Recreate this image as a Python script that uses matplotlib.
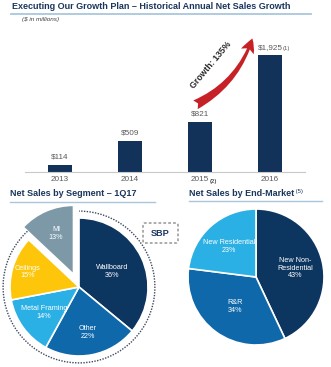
import numpy as np
import matplotlib.pyplot as plt
from matplotlib.lines import Line2D
from matplotlib.patches import Arc, FancyBboxPatch

plt.rcParams['font.family'] = ['Liberation Sans', 'DejaVu Sans']

# data
years = ['2013', '2014', '2015', '2016']
sales = [114, 509, 821, 1925]
year_notes = ['', '', '(2)', '']
sales_notes = ['', '', '', '(1)']

seg_labels = ['Wallboard', 'Other', 'Metal Framing', 'Ceilings', 'MI']
seg_share = [36, 22, 14, 15, 13]
market_labels = ['New Non-\nResidential', 'R&R', 'New Residential']
market_share = [43, 34, 23]

navy = '#12325a'
title_col = '#1b365d'
gray = '#595959'
line_col = '#a9c6dd'

W, H = 331, 367
fig = plt.figure(figsize=(W / 100, H / 100), dpi=100)


def fx(px):
    return px / W


def fy(py):
    return 1 - py / H


def px_axes(cx, cy, half):
    return fig.add_axes([fx(cx - half), fy(cy + half), 2 * half / W, 2 * half / H])


# titles and rules
fig.text(fx(12), fy(6.5), 'Executing Our Growth Plan \u2013 Historical Annual Net Sales Growth',
         fontsize=6.5, fontweight='bold', color=title_col, va='center', ha='left')
fig.add_artist(Line2D([fx(11), fx(311)], [fy(13.5), fy(13.5)], color=line_col, lw=1.3))
fig.text(fx(22), fy(20), '($ in millions)', fontsize=4.6, style='italic', color='#404040',
         va='center', ha='left')

fig.text(fx(10), fy(194), 'Net Sales by Segment \u2013 1Q17', fontsize=6.5, fontweight='bold',
         color=title_col, va='center', ha='left')
fig.add_artist(Line2D([fx(10), fx(155)], [fy(202), fy(202)], color=line_col, lw=1.0))
t = fig.text(fx(189), fy(193), 'Net Sales by End-Market', fontsize=6.5, fontweight='bold',
             color=title_col, va='center', ha='left')
fig.add_artist(plt.Annotation(' (5)', xy=(1, 1.0), xycoords=t, ha='left', va='top',
                              fontsize=4.2, color=title_col))
fig.add_artist(Line2D([fx(189), fx(322)], [fy(201), fy(201)], color=line_col, lw=1.0))

# bar chart
ax = fig.add_axes([fx(25), fy(172), fx(280), 150 / H])
x = np.arange(len(years))
ax.bar(x, sales, width=0.33, color=navy)
ax.set_xlim(-0.5, 3.5)
ax.set_ylim(0, 150 / 0.0608)
for s in ['top', 'right', 'left']:
    ax.spines[s].set_visible(False)
ax.spines['bottom'].set_color('#c8c8c8')
ax.spines['bottom'].set_linewidth(0.8)
ax.set_xticks([])
ax.set_yticks([])
ax.patch.set_alpha(0)

for i, v in enumerate(sales):
    lab = ax.annotate(f'${v:,}', xy=(i, v), xytext=(0, 3), textcoords='offset points',
                      ha='center', va='bottom', fontsize=5.9, color=gray)
    if sales_notes[i]:
        ax.annotate(sales_notes[i], xy=(1, 0.0), xycoords=lab, ha='left', va='bottom',
                    fontsize=4.3, color=gray)
    ax.annotate(years[i], xy=(i, 0), xytext=(0, -3), textcoords='offset points',
                ha='center', va='top', fontsize=5.9, color=gray)
    if year_notes[i]:
        ax.annotate(year_notes[i], xy=(i, 0), xytext=(6.7, -5.2), textcoords='offset points',
                    ha='left', va='top', fontsize=4.3, color=gray, fontweight='bold')

# growth arrow
ax.annotate('', xy=(2.76, 2240), xytext=(1.9, 1085),
            arrowprops=dict(arrowstyle='fancy,head_length=1.0,head_width=1.0,tail_width=0.7',
                            connectionstyle='arc3,rad=0.22', color='#c62127', lw=0))
ax.text(2.16, 1760, 'Growth: 135%', rotation=50, ha='center', va='center',
        rotation_mode='anchor', fontsize=6.3, fontweight='bold', color='#262626')

# segment pie
seg_colors = ['#0c3560', '#0f68aa', '#2ab0e4', '#fdc60a', '#7d99a8']
ax1 = px_axes(79, 287, 69 * 1.3)
w1, _ = ax1.pie(seg_share, colors=seg_colors, startangle=90, counterclock=False,
                explode=[0, 0, 0, 0, 0.2],
                wedgeprops=dict(edgecolor='white', linewidth=1.2))
ax1.set_xlim(-1.3, 1.3)
ax1.set_ylim(-1.3, 1.3)
ax1.set_aspect('auto')
seg_r = [0.53, 0.67, 0.63, 0.78, 0.84]
for w, lab, pct, r in zip(w1, seg_labels, seg_share, seg_r):
    a = np.deg2rad((w.theta1 + w.theta2) / 2)
    ax1.text(r * np.cos(a), r * np.sin(a), f'{lab}\n{pct}%', ha='center', va='center',
             fontsize=5.2, color='white', linespacing=1.15)
mi = w1[-1]
ax1.add_patch(Arc((0, 0), 2.2, 2.2, theta1=mi.theta2 - 4, theta2=mi.theta1 + 360,
                  edgecolor='#3c4a5c', linestyle=(0, (1, 1)), lw=1.0))

# SBP box
fig.add_artist(FancyBboxPatch((fx(143), fy(243)), fx(35), 20 / H,
                              boxstyle='round,pad=0,rounding_size=0.006',
                              transform=fig.transFigure, fill=False,
                              edgecolor='#8c8c8c', linestyle=(0, (2, 1.5)), lw=1.0))
fig.text(fx(160.5), fy(233), 'SBP', fontsize=6.6, fontweight='bold', color=title_col,
         ha='center', va='center')

# end-market pie
market_colors = ['#0c3560', '#0f68aa', '#2ab0e4']
ax2 = px_axes(256, 277, 68 * 1.3)
w2, _ = ax2.pie(market_share, colors=market_colors, startangle=90, counterclock=False,
                wedgeprops=dict(edgecolor='white', linewidth=1.2))
ax2.set_xlim(-1.3, 1.3)
ax2.set_ylim(-1.3, 1.3)
ax2.set_aspect('auto')
market_r = [0.59, 0.53, 0.6]
for w, lab, pct, r in zip(w2, market_labels, market_share, market_r):
    a = np.deg2rad((w.theta1 + w.theta2) / 2)
    ax2.text(r * np.cos(a), r * np.sin(a), f'{lab}\n{pct}%', ha='center', va='center',
             fontsize=5.2, color='white', linespacing=1.15)

fig.savefig('out.png', dpi=100)
